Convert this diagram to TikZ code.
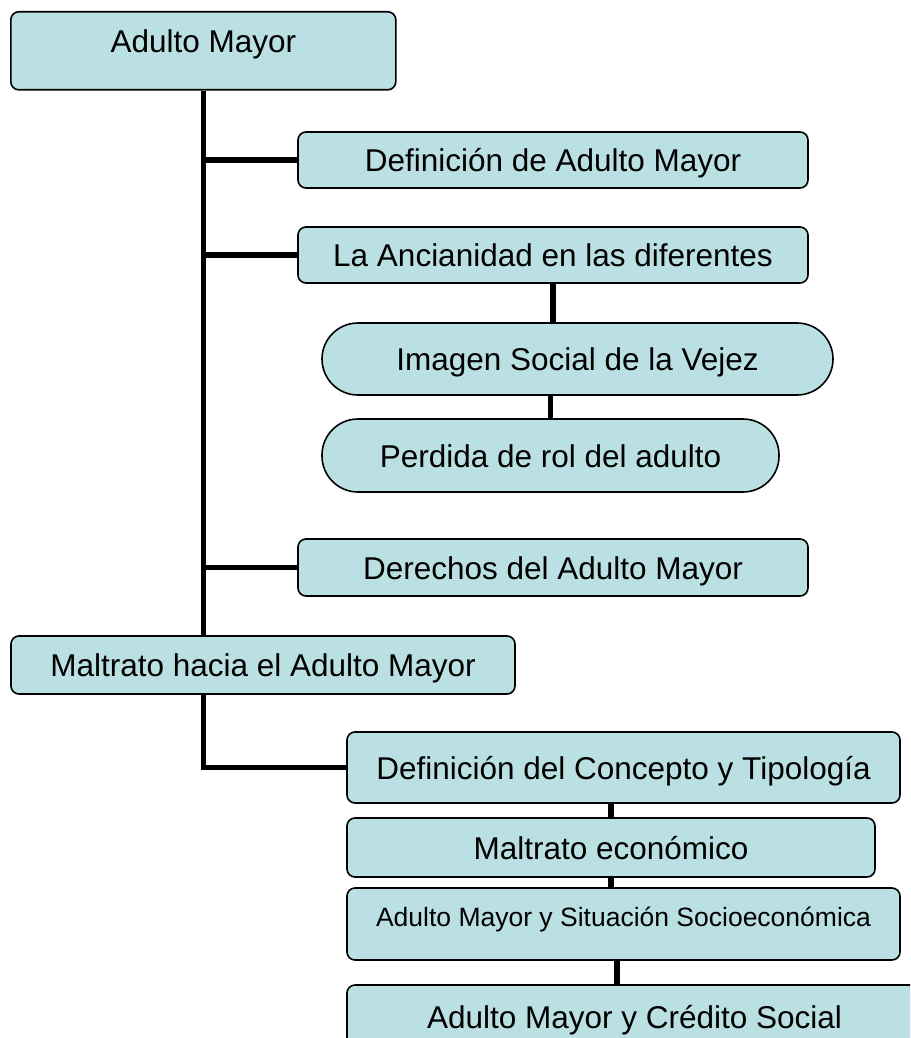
\documentclass[tikz,border=0pt]{standalone}
\usepackage{fontspec}
\setmainfont{Liberation Sans}
\definecolor{boxfill}{RGB}{187,224,227}

\begin{document}
\begin{tikzpicture}[x=1pt,y=-1pt,
  box/.style={draw=black,line width=1.6pt,fill=boxfill,rounded corners=8pt,inner sep=0pt,
    font=\fontsize{31.5}{36}\selectfont,text height=23pt,text depth=0pt},
  pill/.style={box,rounded corners=36pt},
  link/.style={line width=5.5pt}]
\useasboundingbox (0,0) rectangle (910,1038);
\clip (0,0) rectangle (910,1038);

\node[box,anchor=north west,text height=41pt,text depth=37pt,minimum width=385pt] (am) at (10,11) {Adulto Mayor};

\node[box,minimum width=510pt,minimum height=56pt] (def) at (553,160) {Definición de Adulto Mayor};
\node[box,minimum width=510pt,minimum height=56pt] (anc) at (553,255) {La Ancianidad en las diferentes};
\node[pill,minimum width=511pt,minimum height=72pt] (ima) at (577.5,359) {Imagen Social de la Vejez};
\node[pill,minimum width=457pt,minimum height=73pt] (per) at (550.5,455.5) {Perdida de rol del adulto};
\node[box,minimum width=510pt,minimum height=57pt] (der) at (553,567.5) {Derechos del Adulto Mayor};

\node[box,minimum width=504pt,minimum height=58pt] (mal) at (263,665) {Maltrato hacia el Adulto Mayor};

\node[box,minimum width=553pt,minimum height=71pt] (con) at (623.5,767.5) {Definición del Concepto y Tipología};
\node[box,minimum width=528pt,minimum height=59pt] (eco) at (611,847.5) {Maltrato económico};
\node[box,minimum width=553pt,minimum height=72pt,font=\fontsize{26.5}{30}\selectfont,text height=19pt,text depth=14pt] (soc) at (623.5,924) {Adulto Mayor y Situación Socioeconómica};
\node[box,minimum width=575pt,minimum height=64pt] (cre) at (634.5,1017) {Adulto Mayor y Crédito Social};

\draw[link] (am.south) -- (am.south |- mal.north);
\draw[link] (am.south |- def.west) -- (def.west);
\draw[link] (am.south |- anc.west) -- (anc.west);
\draw[link] (am.south |- der.west) -- (der.west);
\draw[link] (anc.south) -- (anc.south |- ima.north);
\draw[link] (per.north) -- (per.north |- ima.south);

\draw[link] (am.south |- mal.south) |- (con.west);
\draw[link] (eco.north) -- (eco.north |- con.south);
\draw[link] (eco.south) -- (eco.south |- soc.north);
\draw[link] ([xshift=-6.5pt]soc.south) -- ([xshift=-6.5pt]soc.south |- cre.north);

\end{tikzpicture}
\end{document}
